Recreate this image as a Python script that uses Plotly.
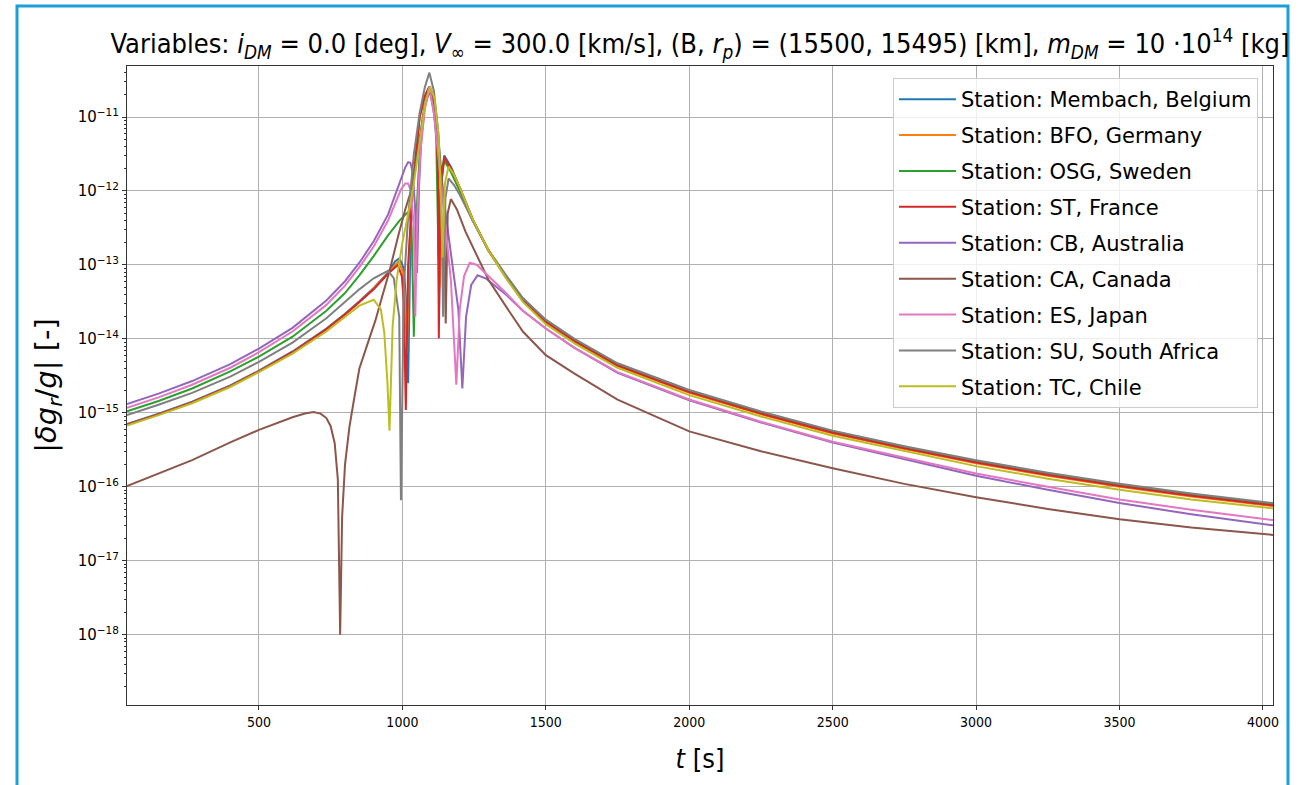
import plotly.graph_objects as go

# ---------------- data (log10 of |dg_r/g|) ----------------
T_LEFT = [40, 150, 267, 400, 500, 617, 735, 800, 850, 900]
T_TAIL = [1500, 1600, 1750, 2000, 2250, 2500, 2750, 3000, 3250, 3500, 3750, 4035]

names = ["Station: Membach, Belgium", "Station: BFO, Germany", "Station: OSG, Sweden",
         "Station: ST, France", "Station: CB, Australia", "Station: CA, Canada",
         "Station: ES, Japan", "Station: SU, South Africa", "Station: TC, Chile"]
colors = ["#1f77b4", "#ff7f0e", "#2ca02c", "#d62728", "#9467bd", "#8c564b",
          "#e377c2", "#7f7f7f", "#bcbd22"]

# Membach (blue)
mb_left = [-15.15, -15.01, -14.85, -14.63, -14.43, -14.17, -13.86, -13.66, -13.49, -13.31]
mb_tmid = [950, 975, 990, 1005, 1013, 1020, 1028, 1035, 1048, 1060, 1078, 1094, 1108, 1118,
           1124, 1128, 1134, 1146, 1170, 1200, 1245, 1300, 1361, 1420]
mb_mid = [-13.1, -12.95, -12.91, -13.05, -13.5, -14.6, -12.7, -12.0, -11.45, -11.0, -10.72,
          -10.59, -10.75, -11.0, -11.8, -13.6, -11.9, -11.52, -11.68, -11.95, -12.38, -12.8,
          -13.16, -13.47]
mb_tail = [-13.76, -14.02, -14.35, -14.71, -15.00, -15.26, -15.47, -15.66, -15.83, -15.98, -16.11, -16.24]

# BFO (orange)
bf_left = [-15.16, -15.02, -14.86, -14.64, -14.44, -14.18, -13.87, -13.67, -13.50, -13.32]
bf_tmid = [950, 987, 1002, 1010, 1016, 1024, 1035, 1048, 1060, 1078, 1094, 1108, 1118, 1125,
           1130, 1136, 1146, 1170, 1200, 1245, 1300, 1361, 1420]
bf_mid = [-13.11, -12.95, -13.1, -13.5, -14.2, -12.8, -12.0, -11.45, -11.0, -10.72, -10.59,
          -10.75, -11.0, -11.8, -13.3, -11.9, -11.56, -11.7, -11.96, -12.39, -12.81, -13.17, -13.49]
bf_tail = [-13.78, -14.04, -14.37, -14.73, -15.02, -15.28, -15.49, -15.68, -15.85, -16.00, -16.13, -16.26]

# OSG (green)
os_left = [-14.98, -14.84, -14.67, -14.44, -14.24, -13.97, -13.62, -13.38, -13.14, -12.88]
os_tmid = [950, 990, 1015, 1024, 1032, 1040, 1048, 1060, 1078, 1094, 1108, 1118, 1126, 1136,
           1148, 1170, 1200, 1245, 1300, 1361, 1420]
os_mid = [-12.6, -12.4, -12.3, -12.28, -12.5, -13.97, -12.4, -11.5, -10.85, -10.59, -10.75,
          -11.3, -12.9, -11.7, -11.6, -11.75, -12.0, -12.4, -12.8, -13.14, -13.45]
os_tail = [-13.75, -14.01, -14.34, -14.70, -14.99, -15.25, -15.46, -15.65, -15.82, -15.97, -16.10, -16.23]

# ST (red)
st_left = [-15.16, -15.02, -14.86, -14.64, -14.44, -14.18, -13.87, -13.67, -13.50, -13.33]
st_tmid = [950, 984, 998, 1005, 1012, 1020, 1035, 1048, 1060, 1078, 1094, 1108, 1118, 1124,
           1127, 1133, 1146, 1170, 1200, 1245, 1300, 1361, 1420]
st_mid = [-13.12, -13.0, -13.15, -13.5, -14.96, -13.0, -12.0, -11.45, -11.0, -10.72, -10.59,
          -10.75, -11.0, -11.8, -13.99, -12.0, -11.54, -11.7, -11.95, -12.38, -12.8, -13.17, -13.48]
st_tail = [-13.77, -14.03, -14.36, -14.72, -15.01, -15.27, -15.48, -15.67, -15.84, -15.99, -16.12, -16.25]

# CB (purple)
cb_left = [-14.88, -14.74, -14.57, -14.34, -14.13, -13.85, -13.48, -13.22, -12.97, -12.68]
cb_tmid = [950, 975, 995, 1010, 1020, 1028, 1036, 1044, 1051, 1058, 1066, 1078, 1094, 1110,
           1130, 1146, 1169, 1195, 1209, 1222, 1240, 1262, 1290, 1330, 1361, 1420]
cb_mid = [-12.32, -12.06, -11.84, -11.68, -11.61, -11.62, -11.75, -12.2, -13.11, -11.95, -11.3,
          -10.85, -10.59, -10.95, -11.6, -12.16, -12.84, -13.6, -14.67, -13.7, -13.27, -13.14,
          -13.18, -13.3, -13.4, -13.62]
cb_tail = [-13.86, -14.12, -14.46, -14.83, -15.13, -15.40, -15.63, -15.85, -16.04, -16.22, -16.37, -16.52]

# CA (brown)
ca_tmain = [40, 150, 267, 400, 500, 617, 660, 690, 715, 735, 750, 764, 775, 783, 790, 800, 815,
            830, 850, 880, 906, 930, 954, 986, 1010, 1034, 1055, 1075, 1094, 1110, 1125, 1138,
            1145, 1151, 1158, 1169, 1190, 1220, 1245, 1300, 1361, 1420]
ca_main = [-15.99, -15.82, -15.64, -15.40, -15.23, -15.06, -15.01, -14.99, -15.01, -15.07,
           -15.18, -15.41, -15.9, -18.0, -16.4, -15.7, -15.2, -14.85, -14.4, -14.05, -13.75,
           -13.42, -13.1, -12.6, -12.25, -11.95, -11.4, -10.9, -10.65, -10.85, -11.25, -11.8,
           -12.2, -13.79, -12.3, -12.11, -12.25, -12.55, -12.75, -13.2, -13.56, -13.9]
ca_tail = [-14.22, -14.47, -14.82, -15.25, -15.52, -15.75, -15.96, -16.14, -16.30, -16.44, -16.55, -16.65]

# ES (pink)
es_left = [-14.93, -14.79, -14.62, -14.39, -14.18, -13.90, -13.54, -13.28, -13.03, -12.75]
es_tmid = [950, 975, 995, 1010, 1020, 1030, 1040, 1045, 1052, 1062, 1078, 1094, 1110, 1130,
           1146, 1169, 1188, 1200, 1215, 1235, 1260, 1300, 1361, 1420]
es_mid = [-12.40, -12.17, -11.98, -11.9, -11.9, -12.0, -12.5, -13.7, -12.3, -11.5, -10.9,
          -10.59, -10.95, -11.7, -12.3, -13.2, -14.62, -13.6, -13.15, -12.97, -13.0, -13.15,
          -13.38, -13.62]
es_tail = [-13.86, -14.12, -14.45, -14.82, -15.12, -15.39, -15.61, -15.82, -16.00, -16.17, -16.31, -16.45]

# SU (gray)
su_left = [-15.03, -14.89, -14.73, -14.51, -14.31, -14.05, -13.72, -13.50, -13.33, -13.18]
su_tmid = [930, 950, 970, 989, 995, 1005, 1020, 1040, 1060, 1078, 1094, 1110, 1125, 1135, 1142,
           1150, 1161, 1180, 1200, 1245, 1300, 1361, 1420]
su_mid = [-13.12, -13.08, -13.18, -13.7, -16.18, -13.3, -12.35, -11.5, -10.95, -10.6, -10.40,
          -10.65, -11.2, -12.0, -13.70, -12.1, -11.83, -11.92, -12.05, -12.4, -12.8, -13.14, -13.45]
su_tail = [-13.74, -14.00, -14.33, -14.69, -14.98, -15.24, -15.45, -15.64, -15.81, -15.96, -16.09, -16.22]

# TC (olive)
tc_left = [-15.17, -15.03, -14.87, -14.65, -14.45, -14.2, -13.9, -13.7, -13.55, -13.47]
tc_tmid = [925, 937, 948, 955, 960, 966, 980, 1000, 1035, 1059, 1080, 1097, 1112, 1125, 1133,
           1140, 1148, 1161, 1180, 1200, 1245, 1300, 1361, 1420]
tc_mid = [-13.6, -13.92, -14.6, -15.24, -14.5, -13.83, -13.2, -12.7, -12.03, -11.35, -10.8,
          -10.59, -10.75, -11.2, -11.9, -12.9, -11.9, -11.67, -11.78, -11.95, -12.38, -12.8,
          -13.18, -13.5]
tc_tail = [-13.80, -14.06, -14.39, -14.76, -15.05, -15.31, -15.52, -15.72, -15.89, -16.04, -16.17, -16.29]

series_t = [T_LEFT + mb_tmid + T_TAIL, T_LEFT + bf_tmid + T_TAIL, T_LEFT + os_tmid + T_TAIL,
            T_LEFT + st_tmid + T_TAIL, T_LEFT + cb_tmid + T_TAIL, ca_tmain + T_TAIL,
            T_LEFT + es_tmid + T_TAIL, T_LEFT + su_tmid + T_TAIL, T_LEFT + tc_tmid + T_TAIL]
series_log = [mb_left + mb_mid + mb_tail, bf_left + bf_mid + bf_tail, os_left + os_mid + os_tail,
              st_left + st_mid + st_tail, cb_left + cb_mid + cb_tail, ca_main + ca_tail,
              es_left + es_mid + es_tail, su_left + su_mid + su_tail, tc_left + tc_mid + tc_tail]

x_ticks = [500, 1000, 1500, 2000, 2500, 3000, 3500, 4000]
y_exponents = [-11, -12, -13, -14, -15, -16, -17, -18]

# ---------------- figure ----------------
W, H = 1302, 785
L, R, T, B = 127, 29, 66, 80
COND = "DejaVu Sans Condensed, Liberation Sans Narrow, DejaVu Sans"

fig = go.Figure()
for name, col, tt, lv in zip(names, colors, series_t, series_log):
    fig.add_trace(go.Scatter(x=tt, y=[10 ** v for v in lv], mode="lines", name=name,
                             legendgroup=name, line=dict(color=col, width=2)))

minor_vals = [k * 10.0 ** e for e in range(-19, -10) for k in range(2, 10)]

fig.update_layout(
    width=W, height=H,
    margin=dict(l=L, r=R, t=T, b=B, autoexpand=False),
    paper_bgcolor="white", plot_bgcolor="white",
    font=dict(family="DejaVu Sans", color="black"),
    title=dict(
        text=("Variables: <i>i<sub>DM</sub></i> = 0.0 [deg], <i>V</i><sub>∞</sub> = 300.0 [km/s], "
              "(B, <i>r<sub>p</sub></i>) = (15500, 15495) [km], <i>m<sub>DM</sub></i> = 10 ·10<sup>14</sup> [kg]"),
        x=0.5, xref="paper", xanchor="center", y=1 - 44 / H, yanchor="middle",
        font=dict(family=COND, size=27),
    ),
    showlegend=True,
    legend=dict(
        x=(893 - L) / (W - L - R), y=1 - (78 - T) / (H - T - B), xanchor="left", yanchor="top",
        bgcolor="rgba(255,255,255,0.8)", bordercolor="#cccccc", borderwidth=1,
        font=dict(family="DejaVu Sans", size=21), tracegroupgap=5.6, itemwidth=57,
    ),
)

fig.update_xaxes(
    range=[40, 4035], tickmode="array", tickvals=x_ticks, ticktext=[str(v) for v in x_ticks],
    showgrid=True, gridcolor="#b0b0b0", gridwidth=1, zeroline=False,
    showline=True, linecolor="#333333", linewidth=1.2, mirror=True,
    ticks="outside", ticklen=4, tickcolor="#333333",
    tickfont=dict(family=COND, size=14),
    title=dict(text="<i>t</i> [s]", standoff=20, font=dict(family=COND, size=27)),
)
fig.update_yaxes(
    type="log", range=[-18.95, -10.31], tickmode="array",
    tickvals=[10.0 ** e for e in y_exponents],
    ticktext=["10<sup>\u2212%d</sup>" % (-e) for e in y_exponents],
    showgrid=True, gridcolor="#b0b0b0", gridwidth=1, zeroline=False,
    showline=True, linecolor="#333333", linewidth=1.2, mirror=True,
    ticks="outside", ticklen=4, tickcolor="#333333", tickfont=dict(size=15),
    minor=dict(tickmode="array", tickvals=minor_vals, ticks="outside", ticklen=2,
               tickcolor="#333333", showgrid=False),
    title=dict(text="|<i>δg<sub>r</sub></i>/<i>g</i>| [-]", standoff=12,
               font=dict(family="DejaVu Sans", size=29)),
)

# blue frame around the picture
fig.add_shape(type="rect", xref="paper", yref="paper",
              x0=(17 - L) / (W - L - R), x1=(1288 - L) / (W - L - R),
              y0=(H - B - 800) / (H - T - B), y1=(H - B - 6) / (H - T - B),
              line=dict(color="#1c9fd6", width=3), fillcolor="rgba(0,0,0,0)", layer="above")

fig.write_html("out.html")
